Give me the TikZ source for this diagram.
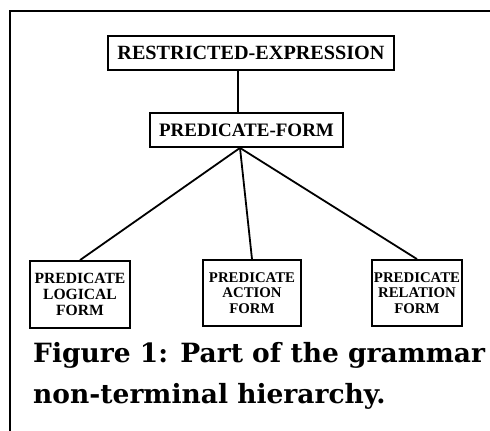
\documentclass[tikz,border=0pt]{standalone}
\usepackage{fontspec}
\setmainfont{Liberation Serif}
\newfontfamily\capfont{DejaVu Serif}
\begin{document}
\begin{tikzpicture}[x=1pt,y=-1pt,
  box/.style={draw=black,line width=1.8pt,inner sep=0pt,align=center,font=\bfseries},
  smallbox/.style={box,font=\fontsize{14.8}{15.2}\selectfont\bfseries},
  conn/.style={line width=1.8pt},
  frame/.style={line width=1.4pt}]
\useasboundingbox (0,0) rectangle (490,431);
\fill[white] (0,0) rectangle (490,431);
\coordinate (fa) at (10,11);
\coordinate (fb) at (490,11);
\coordinate (fc) at (10,431);
\draw[frame] (fc) -- (fa) -- (fb);
\node[box,minimum width=286,minimum height=34,font=\fontsize{20.2}{22}\selectfont\bfseries] (re) at (251,53) {RESTRICTED-EXPRESSION};
\node[box,minimum width=193,minimum height=34,font=\fontsize{19}{21}\selectfont\bfseries] (pf) at (246.5,130) {PREDICATE-FORM};
\node[smallbox,minimum width=100,minimum height=67,font=\fontsize{15.6}{15.8}\selectfont\bfseries] (l) at (80,294.5) {PREDICATE\\LOGICAL\\FORM};
\node[smallbox,minimum width=98,minimum height=66] (a) at (252,293) {PREDICATE\\ACTION\\FORM};
\node[smallbox,minimum width=90,minimum height=66] (r) at (417,293) {PREDICATE\\RELATION\\FORM};
\coordinate (hub) at ([xshift=-6.5]pf.south);
\draw[conn] ([xshift=-13]re.south) -- ([xshift=-8.5]pf.north);
\draw[conn] (hub) -- (l.north);
\draw[conn] (hub) -- (a.north);
\draw[conn] (hub) -- (r.north);
\node[anchor=base west,inner sep=0pt,font=\capfont\bfseries\fontsize{26.5}{28}\selectfont] (cap1) at (33,362) {Figure 1: Part of the grammar};
\node[anchor=base west,inner sep=0pt,font=\capfont\bfseries\fontsize{26.5}{28}\selectfont] (cap2) at (33,403) {non-terminal hierarchy.};
\end{tikzpicture}
\end{document}
